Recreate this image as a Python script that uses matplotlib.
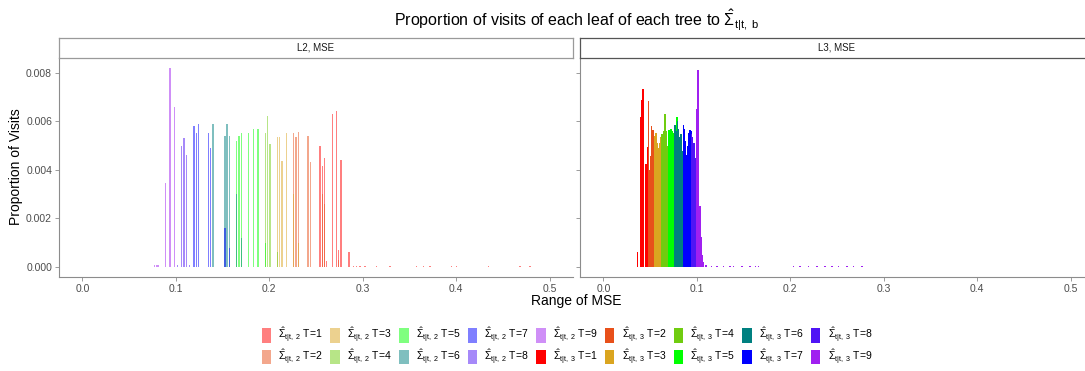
import matplotlib
matplotlib.use("Agg")
import matplotlib.pyplot as plt
from matplotlib.patches import Patch

plt.rcParams['font.family'] = ['Liberation Sans', 'DejaVu Sans']
plt.rcParams['mathtext.fontset'] = 'custom'
plt.rcParams['mathtext.rm'] = 'Liberation Sans'
plt.rcParams['mathtext.it'] = 'Liberation Sans'
plt.rcParams['mathtext.bf'] = 'Liberation Sans:bold'

# ---- data ----
panels = ["L2, MSE", "L3, MSE"]
trees = [1, 2, 3, 4, 5, 6, 7, 8, 9]
tree_colors = ['#FF0000', '#E8501A', '#DAA520', '#70CC10', '#00FF00',
               '#008080', '#0000FF', '#4F15F5', '#A020F0']

# L2 panel: bin centres and proportions per tree
L2_T1_X = [0.2542, 0.2567, 0.2593, 0.2614, 0.2674, 0.2721, 0.2742, 0.2767, 0.2852,
           0.2899, 0.2934, 0.2970, 0.3024, 0.3149, 0.3291, 0.3577, 0.3648, 0.3719,
           0.3951, 0.4005, 0.4343, 0.4682, 0.4789]
L2_T1_Y = [0.0050, 0.00416, 0.00448, 0.00025, 0.0063, 0.00643, 0.0007, 0.00441, 0.0006,
           0.00006, 0.00006, 0.00005, 0.00005, 0.00004, 0.00004, 0.00004, 0.00004, 0.00004,
           0.00004, 0.00004, 0.00004, 0.00004, 0.00004]
L2_T2_X = [0.2261, 0.2286, 0.2310, 0.2414, 0.2439, 0.2567, 0.2593, 0.2742]
L2_T2_Y = [0.00554, 0.00535, 0.00558, 0.0054, 0.00434, 0.0030, 0.0026, 0.0003]
L2_T3_X = [0.2086, 0.2111, 0.2136, 0.2182, 0.2261, 0.2310]
L2_T3_Y = [0.00535, 0.00535, 0.00438, 0.00554, 0.0030, 0.0010]
L2_T4_X = [0.1957, 0.1983, 0.2007, 0.2086]
L2_T4_Y = [0.00554, 0.00623, 0.00507, 0.0006]
L2_T5_X = [0.1651, 0.1676, 0.1701, 0.1780, 0.1829, 0.1879, 0.1957]
L2_T5_Y = [0.0052, 0.0054, 0.00554, 0.00554, 0.0057, 0.00568, 0.0010]
L2_T6_X = [0.1398, 0.1526, 0.1548, 0.1572, 0.1651, 0.1701]
L2_T6_Y = [0.0059, 0.0054, 0.0059, 0.0054, 0.0030, 0.0012]
L2_T7_X = [0.1195, 0.1219, 0.1245, 0.1352, 0.1373, 0.1526, 0.1572]
L2_T7_Y = [0.0058, 0.00554, 0.0059, 0.00554, 0.0049, 0.0016, 0.0008]
L2_T8_X = [0.1020, 0.1063, 0.1088, 0.1112, 0.1150]
L2_T8_Y = [0.0001, 0.0050, 0.0053, 0.0046, 0.0001]
L2_T9_X = [0.0770, 0.0790, 0.0810, 0.0892, 0.0938, 0.0984]
L2_T9_Y = [0.0001, 0.0001, 0.0001, 0.00346, 0.0082, 0.0066]

# L3 panel
L3_T1_X = [0.0364, 0.0400, 0.0411, 0.0422, 0.0457, 0.0471]
L3_T1_Y = [0.0006, 0.00617, 0.00689, 0.00733, 0.00425, 0.00494]
L3_T2_X = [0.0482, 0.0493, 0.0503, 0.0518, 0.0529, 0.0540]
L3_T2_Y = [0.00682, 0.0040, 0.00457, 0.00579, 0.00565, 0.00531]
L3_T3_X = [0.0550, 0.0564, 0.0578, 0.0589, 0.0600, 0.0615]
L3_T3_Y = [0.0054, 0.00554, 0.0051, 0.0049, 0.0051, 0.00535]
L3_T4_X = [0.0628, 0.0639, 0.0647, 0.0661, 0.0675, 0.0685]
L3_T4_Y = [0.0055, 0.0053, 0.0056, 0.0063, 0.0056, 0.0050]
L3_T5_X = [0.0696, 0.0703, 0.0714, 0.0725, 0.0736, 0.0746, 0.0757, 0.0789]
L3_T5_Y = [0.0052, 0.00565, 0.0055, 0.0057, 0.0056, 0.00554, 0.0050, 0.00617]
L3_T6_X = [0.0768, 0.0778, 0.0796, 0.0803, 0.0818, 0.0832, 0.0843]
L3_T6_Y = [0.00585, 0.0056, 0.0060, 0.0057, 0.00535, 0.0055, 0.0048]
L3_T7_X = [0.0857, 0.0867, 0.0878, 0.0889, 0.0900, 0.0910, 0.0925, 0.0939]
L3_T7_Y = [0.00584, 0.0057, 0.0052, 0.0046, 0.0050, 0.00554, 0.00565, 0.0056]
L3_T8_X = [0.0946, 0.0953, 0.0968, 0.0979, 0.0989]
L3_T8_Y = [0.0055, 0.00535, 0.0051, 0.0045, 0.0030]
L3_T9_X = [0.1000, 0.1011, 0.1021, 0.1032, 0.1043, 0.1054, 0.1070, 0.1100,
           0.1160, 0.1214, 0.1285, 0.1357, 0.1392, 0.1482, 0.1571, 0.1625, 0.1660,
           0.2034, 0.2106, 0.2195, 0.2284, 0.2373, 0.2445, 0.2516, 0.2605, 0.2677, 0.2767]
L3_T9_Y = [0.0065, 0.0081, 0.0037, 0.0025, 0.00125, 0.0005, 0.0002, 0.0001,
           0.00005, 0.00005, 0.00005, 0.00005, 0.00005, 0.00005, 0.00005, 0.00005, 0.00005,
           0.00005, 0.00005, 0.00005, 0.00005, 0.00005, 0.00005, 0.00005, 0.00005, 0.00005, 0.00005]

l2_x = [L2_T1_X, L2_T2_X, L2_T3_X, L2_T4_X, L2_T5_X, L2_T6_X, L2_T7_X, L2_T8_X, L2_T9_X]
l2_y = [L2_T1_Y, L2_T2_Y, L2_T3_Y, L2_T4_Y, L2_T5_Y, L2_T6_Y, L2_T7_Y, L2_T8_Y, L2_T9_Y]
l3_x = [L3_T1_X, L3_T2_X, L3_T3_X, L3_T4_X, L3_T5_X, L3_T6_X, L3_T7_X, L3_T8_X, L3_T9_X]
l3_y = [L3_T1_Y, L3_T2_Y, L3_T3_Y, L3_T4_Y, L3_T5_Y, L3_T6_Y, L3_T7_Y, L3_T8_Y, L3_T9_Y]

x_ticks = [0.0, 0.1, 0.2, 0.3, 0.4, 0.5]
y_ticks = [0.000, 0.002, 0.004, 0.006, 0.008]

# ---- figure ----
W, H = 1085, 371
fig = plt.figure(figsize=(W / 100, H / 100), dpi=100)

def box(l, t, w, h):
    return [l / W, 1 - (t + h) / H, w / W, h / H]

axes = [fig.add_axes(box(59, 58, 514, 219)), fig.add_axes(box(580, 58, 514, 219))]
alphas = [0.5, 1.0]
bar_w = [0.0013, 0.0015]

for i, ax in enumerate(axes):
    xs, ys = (l2_x, l2_y) if i == 0 else (l3_x, l3_y)
    for k in range(len(trees)):
        ax.bar(xs[k], ys[k], width=bar_w[i], color=tree_colors[k],
               alpha=alphas[i], linewidth=0)
    ax.set_xlim(-0.025, 0.525)
    ax.set_ylim(-0.00041, 0.00861)
    ax.set_xticks(x_ticks)
    ax.set_xticklabels(["%.1f" % v for v in x_ticks])
    ax.set_yticks(y_ticks)
    ax.set_yticklabels(["%.3f" % v for v in y_ticks])
    for s in ["top", "right"]:
        ax.spines[s].set_visible(False)
    for s in ["left", "bottom"]:
        ax.spines[s].set_color("#8c8c8c")
        ax.spines[s].set_linewidth(0.8)
    ax.tick_params(length=3, width=0.6, color="#8c8c8c", labelsize=7.5,
                   labelcolor="#4d4d4d", pad=2)
    if i == 1:
        ax.tick_params(axis="y", labelleft=False)

    # facet strip
    sx = fig.add_axes(box(59 + i * 521, 38, 514, 20))
    sx.set_xticks([])
    sx.set_yticks([])
    for s in sx.spines.values():
        s.set_color("#9a9a9a" if i == 0 else "#555555")
        s.set_linewidth(0.9)
    sx.text(0.5, 0.5, panels[i], ha="center", va="center", fontsize=7, color="#1a1a1a",
            transform=sx.transAxes)

fig.text(576 / W, 1 - 20 / H,
         r'Proportion of visits of each leaf of each tree to $\hat{\Sigma}_{t|t,\ b}$',
         ha="center", va="center", fontsize=11.5)
fig.text(576 / W, 1 - 301 / H, "Range of MSE", ha="center", va="center", fontsize=10)
fig.text(16 / W, 1 - 167 / H, "Proportion of Visits", ha="center", va="center",
         rotation=90, fontsize=10)

handles = []
labels = []
for lvl, a in [(2, 0.5), (3, 1.0)]:
    for k, t in enumerate(trees):
        handles.append(Patch(facecolor=tree_colors[k], alpha=a, edgecolor="none"))
        labels.append(r'$\hat{\Sigma}_{t|t,\ %d}$ T=%d' % (lvl, t))

fig.legend(handles, labels, ncol=9, loc="center", bbox_to_anchor=(567 / W, 1 - 346 / H),
           frameon=False, fontsize=7.5, handlelength=0.9, handleheight=1.7,
           handletextpad=0.7, columnspacing=0.7, labelspacing=0.25)

fig.savefig("out.png", dpi=100)
